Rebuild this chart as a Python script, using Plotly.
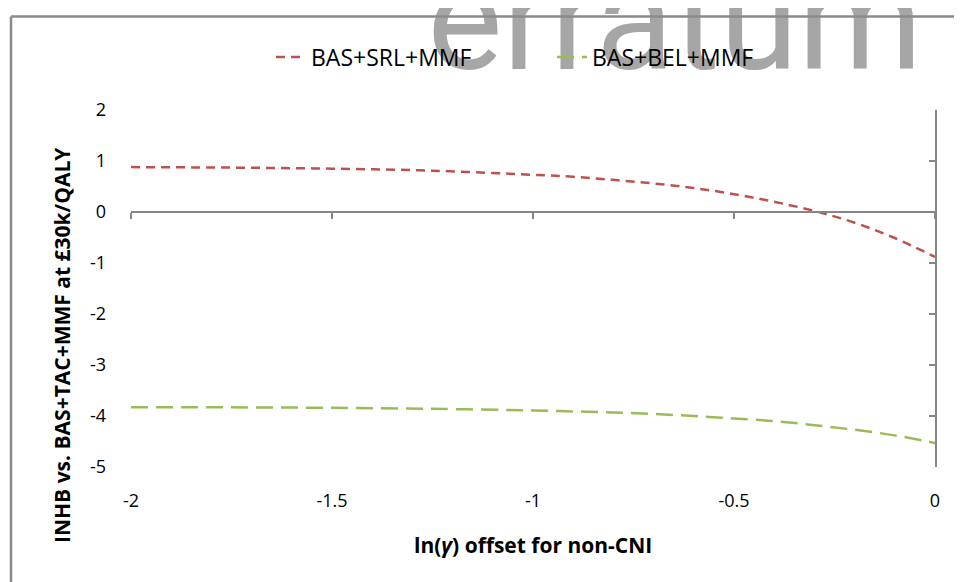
import plotly.graph_objects as go

# ---- data ----
x_vals = [-2.0, -1.75, -1.5, -1.25, -1.0, -0.9, -0.8, -0.7, -0.6, -0.5, -0.4, -0.3, -0.2, -0.1, 0.0]
srl_vals = [0.88, 0.87, 0.85, 0.81, 0.73, 0.69, 0.63, 0.56, 0.47, 0.35, 0.20, 0.02, -0.21, -0.51, -0.88]
bel_vals = [-3.83, -3.83, -3.84, -3.86, -3.89, -3.91, -3.93, -3.96, -4.00, -4.05, -4.10, -4.18, -4.27, -4.38, -4.53]
series_names = ["BAS+SRL+MMF", "BAS+BEL+MMF"]
x_ticks = [-2, -1.5, -1, -0.5, 0]
x_ticktext = ["-2", "-1.5", "-1", "-0.5", "0"]
y_ticks = [-5, -4, -3, -2, -1, 0, 1, 2]
y_ticktext = ["-5", "-4", "-3", "-2", "-1", "0", "1", "2"]
watermark = "erratum"

RED = "#C0504D"
GREEN = "#9BBB59"
AXIS = "#868686"
FONT = "Open Sans"

OFF = 8                      # page body margin
W, H = 962 - OFF, 582 - OFF  # figure size
L, R, T, B = 131 - OFF, 27, 0, 115
pw, ph = W - L - R, H - T - B
Y_TOP = 1 - (110 - OFF) / ph     # top of main plot area in paper units


def px_x(p):
    return (p - OFF - L) / pw


def px_y(p):
    return (ph - (p - OFF)) / ph


fig = go.Figure()

fig.add_trace(go.Scatter(x=x_vals, y=srl_vals, name=series_names[0], mode="lines",
                         line=dict(color=RED, width=2.5, dash="9px,6px", shape="spline")))
fig.add_trace(go.Scatter(x=x_vals, y=bel_vals, name=series_names[1], mode="lines",
                         line=dict(color=GREEN, width=2.5, dash="17px,8px", shape="spline")))
# invisible helper trace so the overlay axes are drawn
fig.add_trace(go.Scatter(x=[], y=[], xaxis="x2", yaxis="y2", showlegend=False, hoverinfo="skip"))

# watermark as a text trace on a hidden full-height subplot
fig.add_trace(go.Scatter(x=[px_x(675)], y=[px_y(104)], xaxis="x3", yaxis="y3", mode="text",
                         text=[watermark], textposition="top center", cliponaxis=False,
                         textfont=dict(size=142, color="#a6a6a6", family="Roboto"),
                         showlegend=False, hoverinfo="skip"))

fig.update_layout(
    width=W, height=H,
    margin=dict(l=L, r=R, t=T, b=B, autoexpand=False),
    paper_bgcolor="white", plot_bgcolor="rgba(0,0,0,0)",
    font=dict(family=FONT, color="#000000", size=18),
    showlegend=True,
    legend=dict(orientation="h", x=px_x(271), xanchor="left", y=px_y(57), yanchor="middle",
                font=dict(size=23, family=FONT), entrywidth=236, entrywidthmode="pixels",
                bgcolor="rgba(0,0,0,0)"),
    xaxis=dict(range=[-2, 0], tickvals=x_ticks, ticktext=x_ticktext, showline=False,
               showgrid=False, zeroline=False, ticks="", ticklabelstandoff=21,
               tickfont=dict(size=18), automargin=False),
    xaxis2=dict(range=[-2, 0], overlaying="x", anchor="free", position=Y_TOP * 5 / 7, side="bottom",
                showline=True, linecolor=AXIS, linewidth=2, ticks="outside", ticklen=6,
                tickwidth=2, tickcolor=AXIS, tickvals=x_ticks, showticklabels=False,
                showgrid=False, zeroline=False, automargin=False),
    yaxis=dict(range=[-5, 2], domain=[0, Y_TOP], tickvals=y_ticks, ticktext=y_ticktext,
               showline=False, showgrid=False, zeroline=False, ticks="", ticklabelstandoff=24,
               tickfont=dict(size=18), automargin=False),
    yaxis2=dict(range=[-5, 2], overlaying="y", anchor="x", side="right", showline=True,
                linecolor=AXIS, linewidth=2, ticks="inside", ticklen=6, tickwidth=2,
                tickcolor=AXIS, tickvals=y_ticks, showticklabels=False, showgrid=False,
                zeroline=False, automargin=False),
    xaxis3=dict(range=[0, 1], domain=[0, 1], anchor="y3", visible=False, automargin=False),
    yaxis3=dict(range=[0, 1], domain=[0, 1], anchor="x3", visible=False, automargin=False),
)

# axis titles
fig.add_annotation(text="INHB vs. BAS+TAC+MMF at £30k/QALY", xref="paper", yref="paper",
                   x=px_x(62), y=px_y(345), xanchor="center", yanchor="middle", textangle=-90,
                   showarrow=False, font=dict(size=21, family=FONT, weight="bold"))
fig.add_annotation(text="ln(<i>γ</i>) offset for non-CNI", xref="paper", yref="paper",
                   x=px_x(533), y=px_y(545), xanchor="center", yanchor="middle",
                   showarrow=False, font=dict(size=21, family=FONT, weight="bold"))

# chart-area border (cropped)
fig.add_shape(type="line", xref="paper", yref="paper", x0=px_x(11), x1=px_x(975),
              y0=px_y(16.5), y1=px_y(16.5), line=dict(color="#8a8a8a", width=2.5), layer="above")
fig.add_shape(type="line", xref="paper", yref="paper", x0=px_x(11), x1=px_x(11),
              y0=px_y(16.5), y1=px_y(600), line=dict(color="#8a8a8a", width=2.5), layer="above")

fig.write_html("out.html")
